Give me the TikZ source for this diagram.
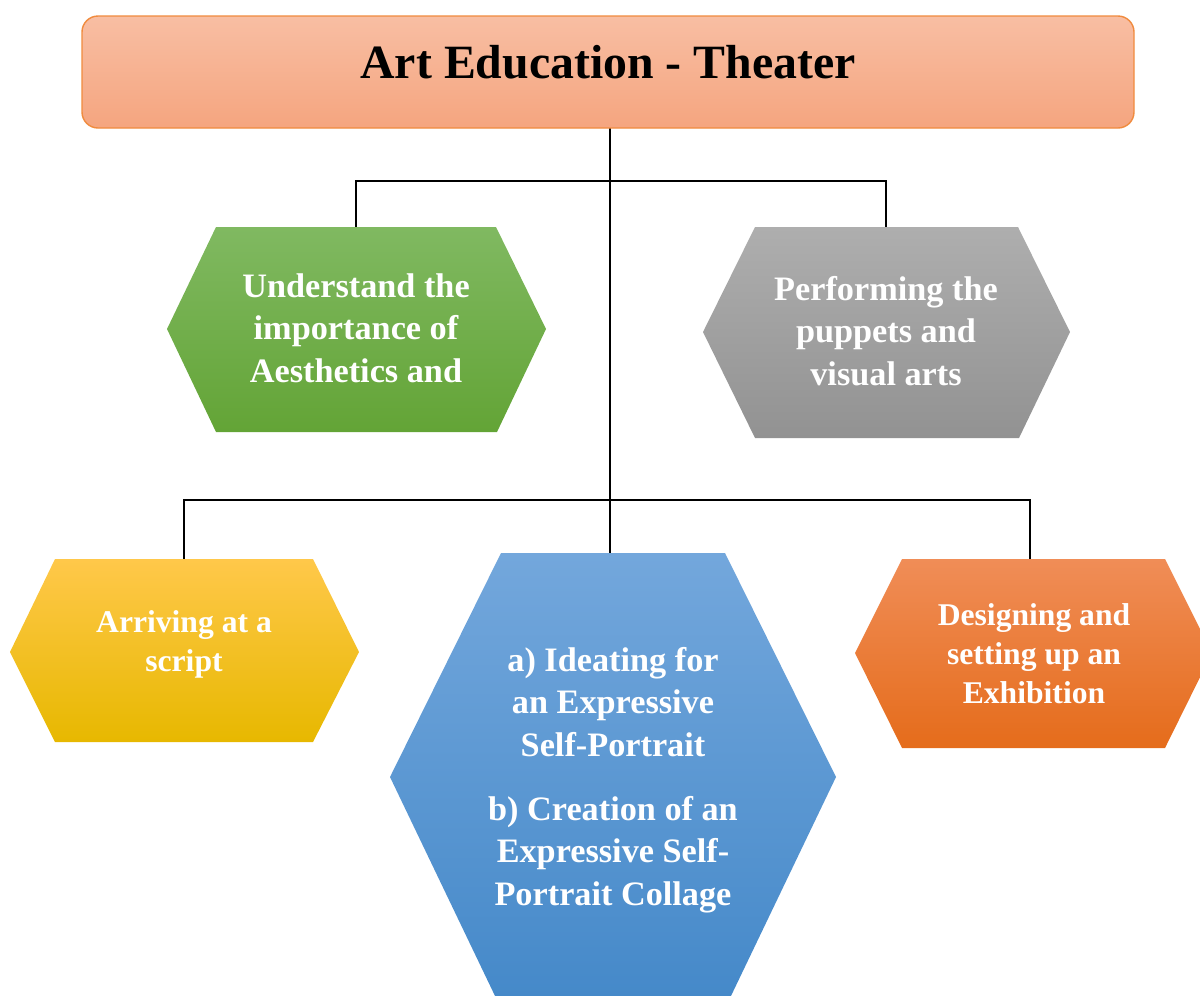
\documentclass[tikz,border=0pt]{standalone}
\usepackage{fontspec}
\setmainfont{Liberation Serif}

% Colours
\definecolor{titletop}{HTML}{F8BEA3}
\definecolor{titlebot}{HTML}{F5A57F}
\definecolor{titleline}{HTML}{F08B3E}
\definecolor{greentop}{HTML}{80B961}
\definecolor{greenbot}{HTML}{63A436}
\definecolor{graytop}{HTML}{AEAEAE}
\definecolor{graybot}{HTML}{929292}
\definecolor{yellowtop}{HTML}{FFC84A}
\definecolor{yellowmid}{HTML}{FFC600}
\definecolor{yellowbot}{HTML}{E7B800}
\definecolor{bluetop}{HTML}{73A7DC}
\definecolor{bluebot}{HTML}{4589C9}
\definecolor{orangetop}{HTML}{F08D57}
\definecolor{orangemid}{HTML}{F27D2C}
\definecolor{orangebot}{HTML}{E56C1B}

\tikzset{
  link/.style={draw=black, line width=1.2pt},
  hextext/.style={text=white, align=center, font=\bfseries\fontsize{19.5}{24.3}\selectfont},
  smalltext/.style={hextext, font=\bfseries\fontsize{18}{22.2}\selectfont}
}

\begin{document}
\begin{tikzpicture}[x=0.02cm, y=-0.02cm]
    \useasboundingbox (0,0) rectangle (1200,995);

    % Anchor points of the tree
    \coordinate (title-s) at (610,128);
    \coordinate (topjoin) at (610,181);
    \coordinate (botjoin) at (610,500);
    \coordinate (green-n) at (356,227);
    \coordinate (gray-n) at (886,227);
    \coordinate (yellow-n) at (184,559);
    \coordinate (blue-n) at (610,555);
    \coordinate (orange-n) at (1030,559);

    % Connectors
    \draw[link, line width=1pt] (title-s) -- (blue-n);
    \draw[link] (green-n) |- (topjoin) -| (gray-n);
    \draw[link, line width=1.6pt] (yellow-n) |- (botjoin) -| (orange-n);

    % Title box
    \shade[top color=titletop, bottom color=titlebot, draw=titleline, line width=0.8pt, rounded corners=0.32cm]
        (82,16) rectangle (1134,128);
    \node[font=\bfseries\fontsize{27.2}{32}\selectfont] (title) at (608,62) {Art Education - Theater};

    % Upper row
    \shade[top color=greentop, bottom color=greenbot]
        (216,227) -- (496,227) -- (546,329) -- (497,432) -- (216,432) -- (167,329) -- cycle;
    \node[hextext] (aesthetics) at (356,328) {Understand the\\importance of\\Aesthetics and};

    \shade[top color=graytop, bottom color=graybot]
        (755,227) -- (1018,227) -- (1070,332) -- (1019,438) -- (755,438) -- (703,332) -- cycle;
    \node[hextext] (puppets) at (886,331) {Performing the\\puppets and\\visual arts};

    % Lower row
    \shade[top color=yellowtop, middle color=yellowmid, bottom color=yellowbot]
        (55,559) -- (313,559) -- (359,652) -- (313,742) -- (55,742) -- (10,652) -- cycle;
    \node[smalltext] (script) at (184,644) {Arriving at a\\script};

    \shade[top color=bluetop, bottom color=bluebot]
        (501,553) -- (725,553) -- (836,777) -- (730,998) -- (496,998) -- (390,777) -- cycle;
    \node[hextext] (portrait) at (613,780)
        {a) Ideating for\\an Expressive\\Self-Portrait\\[12pt]b) Creation of an\\Expressive Self-\\Portrait Collage};

    \shade[top color=orangetop, middle color=orangemid, bottom color=orangebot]
        (902,559) -- (1165,559) -- (1212,653) -- (1165,748) -- (902,748) -- (855,653) -- cycle;
    \node[smalltext] (exhibition) at (1034,654) {Designing and\\setting up an\\Exhibition};
\end{tikzpicture}
\end{document}
